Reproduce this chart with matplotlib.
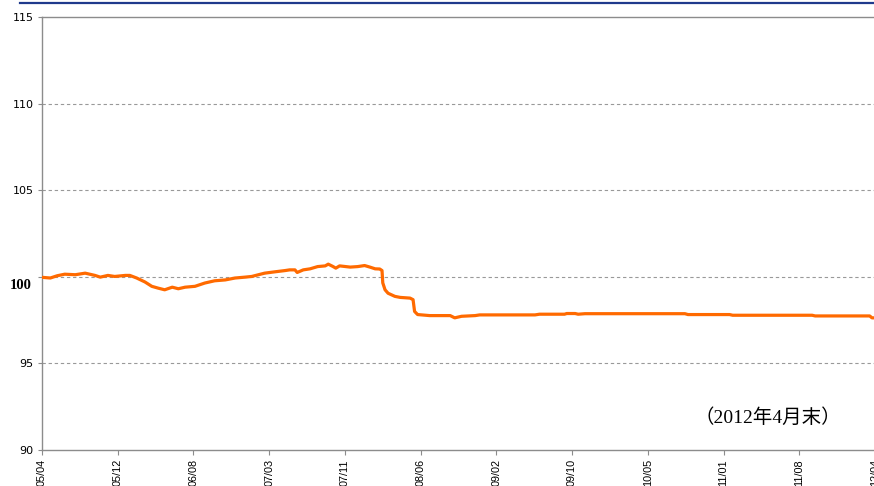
import matplotlib
matplotlib.use("Agg")
import matplotlib.pyplot as plt
from matplotlib.lines import Line2D

# Tick labels (equally spaced on a category-like axis).
tick_labels = ["05/04", "05/12", "06/08", "07/03", "07/11", "08/06",
               "09/02", "09/10", "10/05", "11/01", "11/08", "12/04"]

# Line position in tick units and index value.
pos = [0.00, 0.11, 0.20, 0.30, 0.44, 0.57, 0.70, 0.77, 0.87, 0.96,
       1.10, 1.16, 1.25, 1.36, 1.45, 1.53, 1.62, 1.72, 1.80, 1.89,
       2.02, 2.15, 2.28, 2.42, 2.55, 2.68, 2.77, 2.85, 2.94, 3.08,
       3.21, 3.27, 3.34, 3.37, 3.45, 3.54, 3.64, 3.74, 3.78, 3.84,
       3.88, 3.93, 4.07, 4.17, 4.26, 4.33, 4.40, 4.46, 4.49, 4.50,
       4.53, 4.57, 4.66, 4.73, 4.86, 4.90, 4.92, 4.96, 5.12, 5.39,
       5.45, 5.54, 5.72, 5.78, 6.51, 6.57, 6.90, 6.93, 7.04, 7.08,
       7.17, 8.49, 8.53, 9.08, 9.12, 10.17, 10.21, 10.93, 10.96, 11.00]
value = [99.97, 99.93, 100.06, 100.15, 100.12, 100.21, 100.08, 99.98, 100.08, 100.02,
         100.08, 100.08, 99.93, 99.70, 99.45, 99.35, 99.25, 99.40, 99.31, 99.40,
         99.45, 99.64, 99.77, 99.82, 99.93, 99.98, 100.02, 100.11, 100.21, 100.29,
         100.36, 100.40, 100.40, 100.25, 100.40, 100.46, 100.59, 100.63, 100.73, 100.60,
         100.50, 100.63, 100.56, 100.59, 100.65, 100.56, 100.46, 100.45, 100.36, 99.65,
         99.25, 99.05, 98.87, 98.81, 98.77, 98.68, 98.00, 97.82, 97.76, 97.76,
         97.63, 97.72, 97.76, 97.80, 97.80, 97.84, 97.84, 97.88, 97.88, 97.84,
         97.87, 97.87, 97.82, 97.82, 97.78, 97.78, 97.74, 97.74, 97.63, 97.63]

y_ticks = [90, 95, 100, 105, 110, 115]
note = "（2012年4月末）"

W, H = 874, 486
fig = plt.figure(figsize=(W / 100, H / 100), dpi=100)
fig.patch.set_facecolor("white")

ax = fig.add_axes([42 / W, 36 / H, 833 / W, 433 / H])
ax.set_xlim(0, len(tick_labels) - 1)
ax.set_ylim(90, 115)

ax.plot(pos, value, color="#FF6A00", lw=2.3, solid_joinstyle="round", zorder=3)

# Grid lines.
for y in [95, 100, 105, 110]:
    ax.axhline(y, color="#999999", lw=0.8, ls=(0, (3, 2.5)), zorder=1)

ax.spines["right"].set_visible(False)
for s in ["left", "bottom", "top"]:
    ax.spines[s].set_color("#8c8c8c")
    ax.spines[s].set_linewidth(1.0)

ax.set_yticks(y_ticks)
ax.set_yticklabels(["" if t == 100 else str(t) for t in y_ticks],
                   family="DejaVu Sans", fontsize=8)
ax.text(-0.012, 99.5, "100", transform=ax.get_yaxis_transform(),
        ha="right", va="center", family="Liberation Serif",
        fontweight="bold", fontsize=10.5)
ax.tick_params(axis="y", length=3, width=0.8, color="#8c8c8c", pad=3)

ax.set_xticks(range(len(tick_labels)))
ax.set_xticklabels(tick_labels, rotation=90, family="Liberation Sans",
                   fontsize=7.8, va="top")
ax.tick_params(axis="x", length=3.5, width=0.8, color="#8c8c8c", pad=3)

# Navy rule along the top.
fig.add_artist(Line2D([20 / W, 1.0], [1 - 3 / H, 1 - 3 / H],
                      color="#1F3A8C", lw=1.6, transform=fig.transFigure))

fig.text(768 / W, 1 - 418 / H, note, ha="center", va="center", fontsize=14,
         family=["Liberation Serif", "Noto Sans CJK JP"])

fig.savefig("out.png", dpi=100)
